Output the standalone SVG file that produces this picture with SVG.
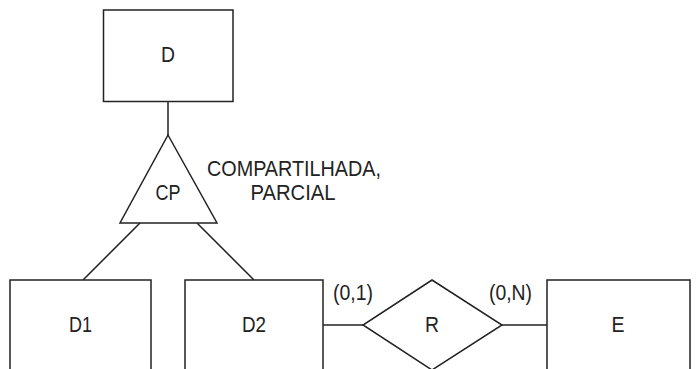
<svg xmlns="http://www.w3.org/2000/svg" width="698" height="369" viewBox="0 0 698 369">
<style>
.s{fill:#fff;stroke:#222;stroke-width:1.5}
.l{stroke:#222;stroke-width:1.5;fill:none}
text{font-family:"Liberation Sans",Arial,sans-serif;font-size:21.5px;fill:#222}
.c{text-anchor:middle}
</style>
<rect width="698" height="369" fill="#fff"/>
<g id="connectors">
<line class="l" x1="168" y1="101.5" x2="168" y2="135"/>
<line class="l" x1="140" y1="223" x2="83" y2="280"/>
<line class="l" x1="197" y1="223" x2="254" y2="280"/>
<line class="l" x1="323" y1="325" x2="363" y2="325"/>
<line class="l" x1="502" y1="325" x2="547" y2="325"/>
<text x="333" y="300" textLength="40" lengthAdjust="spacingAndGlyphs">(0,1)</text>
<text x="489" y="300" textLength="43" lengthAdjust="spacingAndGlyphs">(0,N)</text>
</g>
<g id="D"><rect class="s" x="103.5" y="10" width="129.5" height="91.5"/><text class="c" x="168" y="62" textLength="14" lengthAdjust="spacingAndGlyphs">D</text></g>
<g id="CP"><polygon class="s" points="168,135 217,223 120,223"/><text class="c" x="168" y="200" textLength="25" lengthAdjust="spacingAndGlyphs">CP</text>
<text x="207" y="176" textLength="174" lengthAdjust="spacingAndGlyphs">COMPARTILHADA,</text><text class="c" x="293" y="200" textLength="85" lengthAdjust="spacingAndGlyphs">PARCIAL</text></g>
<g id="D1"><rect class="s" x="10" y="280" width="141" height="100"/><text class="c" x="80.5" y="332" textLength="23" lengthAdjust="spacingAndGlyphs">D1</text></g>
<g id="D2"><rect class="s" x="185" y="280" width="138" height="100"/><text class="c" x="254" y="332" textLength="24" lengthAdjust="spacingAndGlyphs">D2</text></g>
<g id="R"><polygon class="s" points="432,280 502,325 432,370 363,325"/><text class="c" x="432" y="332" textLength="14" lengthAdjust="spacingAndGlyphs">R</text></g>
<g id="E"><rect class="s" x="547" y="280" width="143" height="100"/><text class="c" x="618" y="332" textLength="13" lengthAdjust="spacingAndGlyphs">E</text></g>
</svg>
